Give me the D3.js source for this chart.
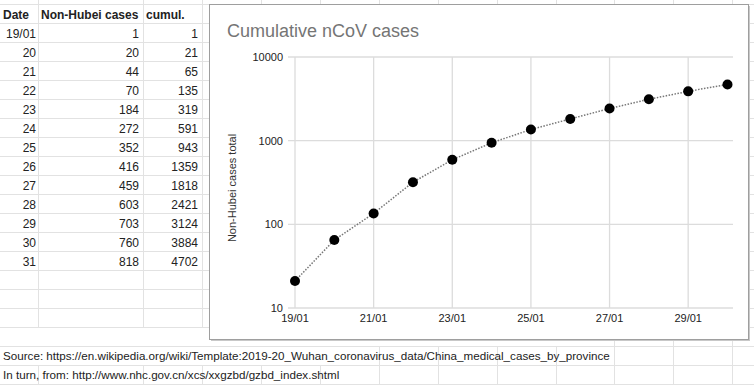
<!DOCTYPE html>
<html>
<head>
<meta charset="utf-8">
<script src="https://cdn.jsdelivr.net/npm/d3@7"></script>
<style>
  body { margin: 0; background: #fff; }
  svg { display: block; font-family: "Liberation Sans", Arial, sans-serif; }
</style>
</head>
<body>
<svg id="sheet" width="754" height="385"></svg>
<script>
// table data (as in the sheet)
const dates = ["19/01", "20", "21", "22", "23", "24", "25", "26", "27", "28", "29", "30", "31"]
const daily = [1, 20, 44, 70, 184, 272, 352, 416, 459, 603, 703, 760, 818]
const cumul = [1, 21, 65, 135, 319, 591, 943, 1359, 1818, 2421, 3124, 3884, 4702]
const headers = ["Date", "Non-Hubei cases", "cumul."]

// chart data: the chart plots cumul from the second row on, labelled from 19/01
const chartDays = ["19/01", "20/01", "21/01", "22/01", "23/01", "24/01", "25/01", "26/01", "27/01", "28/01", "29/01", "30/01"]
const chartValues = cumul.slice(1)
const xTickLabels = ["19/01", "21/01", "23/01", "25/01", "27/01", "29/01"]
const yTicks = [10, 100, 1000, 10000]

const sourceLines = [
  "Source: https://en.wikipedia.org/wiki/Template:2019-20_Wuhan_coronavirus_data/China_medical_cases_by_province",
  "In turn, from: http://www.nhc.gov.cn/xcs/xxgzbd/gzbd_index.shtml"
]

const svg = d3.select("#sheet")

// spreadsheet grid
const rowTop = 4, rowH = 19, nRows = 20
const colLines = [38, 143, 202, 261, 320, 379, 438, 497, 556, 614, 673, 732]
const grid = svg.append("g").attr("stroke", "#e2e2e2").attr("stroke-width", 1)

d3.range(nRows + 1).forEach(i => {
  grid.append("line")
    .attr("x1", 0).attr("x2", 754)
    .attr("y1", rowTop + i * rowH + 0.5).attr("y2", rowTop + i * rowH + 0.5)
})

// text that overflows cells hides the column lines in its row
const overflowEnd = { 17: 556, 18: 320 }
colLines.forEach(x => {
  for (let r = -1; r < nRows + 1; r++) {
    if (overflowEnd[r] !== undefined && x <= overflowEnd[r]) continue
    const y0 = r < 0 ? 0 : rowTop + r * rowH
    const y1 = r < 0 ? rowTop : rowTop + (r + 1) * rowH
    grid.append("line")
      .attr("x1", x + 0.5).attr("x2", x + 0.5)
      .attr("y1", y0).attr("y2", Math.min(y1, 385))
  }
})

// table text
const cellText = svg.append("g").attr("font-size", "12px").attr("fill", "#222")
const base = r => rowTop + r * rowH + 14.5

cellText.selectAll(".hdr").data(headers).enter()
  .append("text")
  .attr("class", "hdr")
  .attr("x", (d, i) => [3, 41, 146][i])
  .attr("y", base(0))
  .attr("font-weight", "bold")
  .text(d => d)

const colRight = [36, 139, 198]
dates.forEach((d, i) => {
  [d, daily[i], cumul[i]].forEach((v, j) => {
    cellText.append("text")
      .attr("x", colRight[j])
      .attr("y", base(i + 1))
      .attr("text-anchor", "end")
      .text(v)
  })
})

sourceLines.forEach((s, i) => {
  cellText.append("text")
    .attr("x", 3)
    .attr("y", base(18 + i) - 0.5)
    .attr("font-size", "11.65px")
    .text(s)
})

// chart box
const box = { x: 210, y: 5, w: 539, h: 335 }
svg.append("rect")
  .attr("x", box.x + 1).attr("y", box.y + 1)
  .attr("width", box.w).attr("height", box.h)
  .attr("fill", "#c8c8c8")
svg.append("rect")
  .attr("x", box.x - 0.5).attr("y", box.y - 0.5)
  .attr("width", box.w).attr("height", box.h)
  .attr("fill", "#fff")
  .attr("stroke", "#9e9e9e")

svg.append("text")
  .attr("x", 227).attr("y", 37)
  .attr("font-size", "18px")
  .attr("fill", "#757575")
  .text("Cumulative nCoV cases")

const plot = { left: 295, right: 733, top: 57, bottom: 308 }

const x = d3.scaleLinear()
  .domain([0, chartDays.length - 1])
  .range([plot.left, 727.5])

const y = d3.scaleLog()
  .domain([10, 10000])
  .range([plot.bottom, plot.top])

const chart = svg.append("g")

// horizontal gridlines
chart.selectAll(".hgrid").data(yTicks).enter()
  .append("line")
  .attr("x1", 288).attr("x2", plot.right)
  .attr("y1", d => y(d)).attr("y2", d => y(d))
  .attr("stroke", "#dcdcdc").attr("stroke-width", 1.3)

// vertical gridlines
chart.selectAll(".vgrid").data(xTickLabels).enter()
  .append("line")
  .attr("x1", d => x(chartDays.indexOf(d))).attr("x2", d => x(chartDays.indexOf(d)))
  .attr("y1", plot.top).attr("y2", plot.bottom)
  .attr("stroke", "#dcdcdc").attr("stroke-width", 1.3)

// y labels
chart.selectAll(".ylab").data(yTicks).enter()
  .append("text")
  .attr("x", 283)
  .attr("y", d => y(d) + 4)
  .attr("text-anchor", "end")
  .attr("font-size", "11px")
  .attr("fill", "#222")
  .text(d => d)

// x labels
chart.selectAll(".xlab").data(xTickLabels).enter()
  .append("text")
  .attr("x", d => x(chartDays.indexOf(d)))
  .attr("y", 322)
  .attr("text-anchor", "middle")
  .attr("font-size", "11px")
  .attr("fill", "#222")
  .text(d => d)

// y axis title
chart.append("text")
  .attr("transform", "translate(236,188) rotate(-90)")
  .attr("text-anchor", "middle")
  .attr("font-size", "11px")
  .attr("fill", "#333")
  .text("Non-Hubei cases total")

// dotted line
const line = d3.line()
  .x((d, i) => x(i))
  .y(d => y(d))

chart.append("path")
  .datum(chartValues)
  .attr("d", line)
  .attr("fill", "none")
  .attr("stroke", "#777")
  .attr("stroke-width", 1.5)
  .attr("stroke-dasharray", "1.5,1.5")

chart.selectAll(".pt").data(chartValues).enter()
  .append("circle")
  .attr("cx", (d, i) => x(i))
  .attr("cy", d => y(d))
  .attr("r", 5)
  .attr("fill", "#000")
</script>
</body>
</html>
